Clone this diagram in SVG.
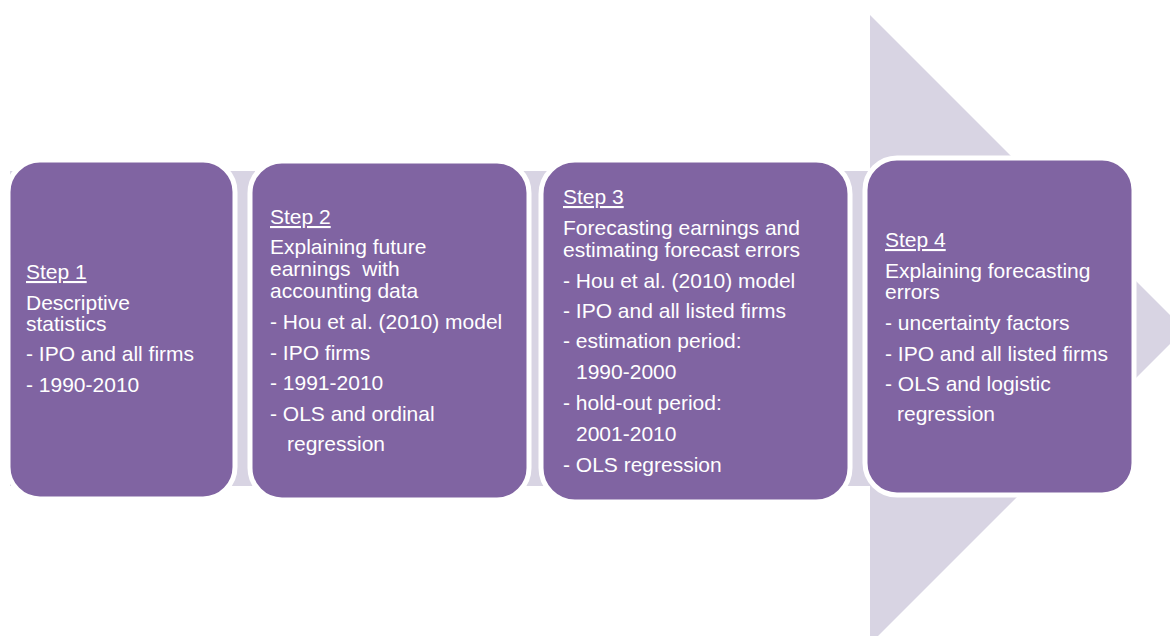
<svg xmlns="http://www.w3.org/2000/svg" width="1170" height="636" viewBox="0 0 1170 636">
  <style>
    .step { fill: #8064A2; stroke: #FFFFFF; stroke-width: 5; }
    .txt { font-family: "Liberation Sans", Arial, sans-serif; font-size: 21px; fill: #FFFFFF; }
    .head { text-decoration: underline; }
  </style>

  <rect width="1170" height="636" fill="#FFFFFF"/>

  <!-- Background process arrow -->
  <g id="connectors">
    <path d="M10,171 H870 V15 L1184.5,329.5 L870,644 V486 H10 Z" fill="#D8D4E3"/>
  </g>

  <!-- Step 1 -->
  <g id="step1">
    <rect class="step" x="8" y="160" width="227" height="339" rx="32"/>
    <text class="txt head" x="26" y="279">Step 1</text>
    <text class="txt" x="26" y="310">Descriptive</text>
    <text class="txt" x="26" y="331">statistics</text>
    <text class="txt" x="26" y="361">- IPO and all firms</text>
    <text class="txt" x="26" y="392">- 1990-2010</text>
  </g>

  <!-- Step 2 -->
  <g id="step2">
    <rect class="step" x="250" y="161" width="279" height="339" rx="32"/>
    <text class="txt head" x="270" y="224">Step 2</text>
    <text class="txt" x="270" y="254">Explaining future</text>
    <text class="txt" x="270" y="276" xml:space="preserve">earnings  with</text>
    <text class="txt" x="270" y="298">accounting data</text>
    <text class="txt" x="270" y="329">- Hou et al. (2010) model</text>
    <text class="txt" x="270" y="360">- IPO firms</text>
    <text class="txt" x="270" y="390">- 1991-2010</text>
    <text class="txt" x="270" y="421">- OLS and ordinal</text>
    <text class="txt" x="287" y="451">regression</text>
  </g>

  <!-- Step 3 -->
  <g id="step3">
    <rect class="step" x="541" y="160" width="309" height="342" rx="34"/>
    <text class="txt head" x="563" y="204">Step 3</text>
    <text class="txt" x="563" y="235">Forecasting earnings and</text>
    <text class="txt" x="563" y="257">estimating forecast errors</text>
    <text class="txt" x="563" y="288">- Hou et al. (2010) model</text>
    <text class="txt" x="563" y="318">- IPO and all listed firms</text>
    <text class="txt" x="563" y="348">- estimation period:</text>
    <text class="txt" x="576" y="379">1990-2000</text>
    <text class="txt" x="563" y="410">- hold-out period:</text>
    <text class="txt" x="576" y="441">2001-2010</text>
    <text class="txt" x="563" y="472">- OLS regression</text>
  </g>

  <!-- Step 4 -->
  <g id="step4">
    <rect class="step" x="865" y="158" width="269" height="337" rx="32"/>
    <text class="txt head" x="885" y="247">Step 4</text>
    <text class="txt" x="885" y="278">Explaining forecasting</text>
    <text class="txt" x="885" y="299">errors</text>
    <text class="txt" x="885" y="330">- uncertainty factors</text>
    <text class="txt" x="885" y="361">- IPO and all listed firms</text>
    <text class="txt" x="885" y="391">- OLS and logistic</text>
    <text class="txt" x="897" y="421">regression</text>
  </g>
</svg>
